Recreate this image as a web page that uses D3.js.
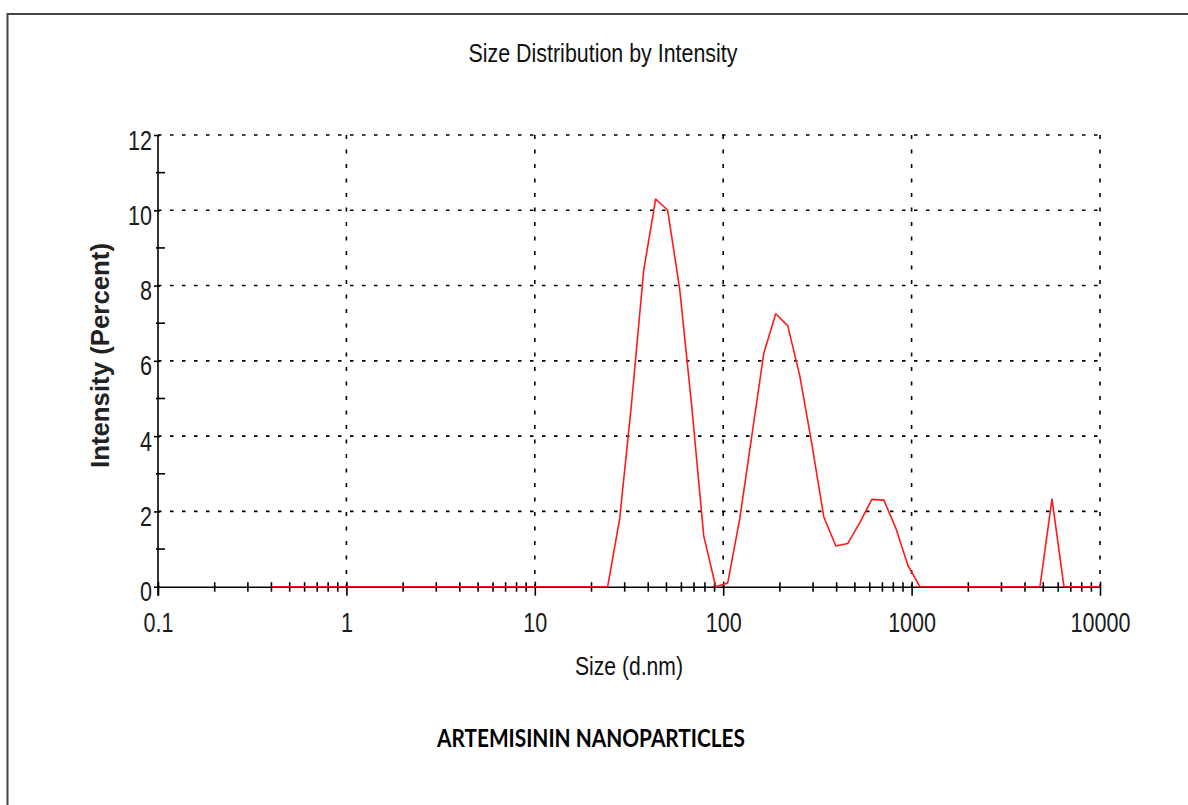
<!DOCTYPE html>
<html><head><meta charset="utf-8">
<script src="https://cdn.jsdelivr.net/npm/d3@7"></script>
<style>body{margin:0;background:#fff} svg{display:block}</style>
</head><body>
<svg id="chart" width="1188" height="805"></svg>
<script>
// ---- data ----
const sizes = [0.4, 0.4632, 0.5365, 0.6213, 0.7195, 0.8332, 0.9649, 1.117, 1.294, 1.499,
  1.736, 2.01, 2.328, 2.696, 3.122, 3.615, 4.187, 4.849, 5.615, 6.503,
  7.531, 8.721, 10.1, 11.7, 13.54, 15.69, 18.17, 21.04, 24.36, 28.21,
  32.67, 37.84, 43.82, 50.75, 58.77, 68.06, 78.82, 91.28, 105.7, 122.4,
  141.8, 164.2, 190.1, 220.2, 255.0, 295.3, 342.0, 396.1, 458.7, 531.2,
  615.1, 712.4, 825.0, 955.4, 1106, 1281, 1484, 1718, 1990, 2305,
  2669, 3091, 3580, 4145, 4801, 5560, 6439, 7456, 8635, 10000];
const intensity = [0, 0, 0, 0, 0, 0, 0, 0, 0, 0,
  0, 0, 0, 0, 0, 0, 0, 0, 0, 0,
  0, 0, 0, 0, 0, 0, 0, 0, 0, 1.8,
  4.9, 8.4, 10.3, 10.0, 7.9, 4.8, 1.35, 0, 0.1, 1.8,
  4.0, 6.2, 7.25, 6.93, 5.6, 3.8, 1.85, 1.08, 1.15, 1.7,
  2.32, 2.3, 1.55, 0.57, 0, 0, 0, 0, 0, 0,
  0, 0, 0, 0, 0, 2.33, 0, 0, 0, 0];
const xTickValues = [0.1, 1, 10, 100, 1000, 10000];
const xTickLabels = ["0.1", "1", "10", "100", "1000", "10000"];
const yTickValues = [0, 2, 4, 6, 8, 10, 12];
const yMinorValues = [1, 3, 5, 7, 9, 11];
const titleText = "Size Distribution by Intensity";
const xLabelText = "Size (d.nm)";
const yLabelText = "Intensity (Percent)";
const captionText = "ARTEMISININ NANOPARTICLES";

// ---- drawing ----
const svg = d3.select("#chart");
const FONT = "'Liberation Sans', Arial, sans-serif";
const SQ = 0.77;
svg.append("rect").attr("width", 1188).attr("height", 805).attr("fill", "#fff");

// frame (top + left edges)
svg.append("path").attr("d", "M7.5,805V14H1188").attr("fill", "none")
  .attr("stroke", "#444").attr("stroke-width", 2);

const x = d3.scaleLog().domain([0.1, 10000]).range([158, 1100]);
const y = d3.scaleLinear().domain([0, 12]).range([586.7, 135]);

// grid
const grid = svg.append("g");
grid.selectAll("line.h").data(yTickValues.filter(d => d > 0)).join("line")
  .attr("x1", x(0.1)).attr("x2", x(10000))
  .attr("y1", d => y(d)).attr("y2", d => y(d))
  .attr("stroke", "#000").attr("stroke-width", 1.6).attr("stroke-dasharray", "3.5,8.5");
grid.selectAll("line.v").data(xTickValues.filter(d => d > 0.1)).join("line")
  .attr("x1", d => x(d)).attr("x2", d => x(d))
  .attr("y1", y(12)).attr("y2", y(0))
  .attr("stroke", "#000").attr("stroke-width", 1.6).attr("stroke-dasharray", "4,10.5");

// x axis
const xAxis = svg.append("g").attr("transform", `translate(0,${y(0)})`)
  .call(d3.axisBottom(x).tickValues(xTickValues).tickFormat((d, i) => xTickLabels[i]).tickSizeOuter(0));
xAxis.select(".domain").attr("stroke", "#000").attr("stroke-width", 1.6);
xAxis.selectAll(".tick line").attr("y1", -5).attr("y2", 9).attr("stroke", "#000").attr("stroke-width", 1.6);
xAxis.selectAll(".tick text").attr("y", 45).attr("dy", null)
  .attr("transform", `scale(${SQ},1)`)
  .attr("font-family", FONT).attr("font-size", 28).attr("fill", "#1a1a1a");
const xMinor = x.ticks().filter(d => !xTickValues.includes(d));
svg.append("g").selectAll("line").data(xMinor).join("line")
  .attr("x1", d => x(d)).attr("x2", d => x(d))
  .attr("y1", y(0) - 4.5).attr("y2", y(0) + 5)
  .attr("stroke", "#000").attr("stroke-width", 1.6);

// y axis
const yAxis = svg.append("g").attr("transform", `translate(${x(0.1)},0)`)
  .call(d3.axisLeft(y).tickValues(yTickValues).tickFormat(d3.format("d")).tickSizeOuter(0));
yAxis.select(".domain").attr("stroke", "#000").attr("stroke-width", 1.6)
  .attr("d", `M0,${y(12)}V${y(0) + 9}`);
yAxis.selectAll(".tick line").attr("x2", -4).attr("x1", 2).attr("stroke", "#000").attr("stroke-width", 1.6);
yAxis.selectAll(".tick text").attr("x", -6 / SQ).attr("dy", null).attr("y", 14)
  .attr("transform", `scale(${SQ},1)`)
  .attr("font-family", FONT).attr("font-size", 28).attr("fill", "#1a1a1a");
svg.append("g").selectAll("line").data(yMinorValues).join("line")
  .attr("x1", x(0.1) - 2).attr("x2", x(0.1) + 7)
  .attr("y1", d => y(d)).attr("y2", d => y(d))
  .attr("stroke", "#000").attr("stroke-width", 1.6);

// data line
const pts = sizes.map((s, i) => [s, intensity[i]]);
svg.append("path").datum(pts)
  .attr("d", d3.line().x(d => x(d[0])).y(d => y(d[1])))
  .attr("fill", "none").attr("stroke", "#ff1a1a").attr("stroke-width", 1.6)
  .attr("stroke-linejoin", "round");

// texts
svg.append("text").attr("x", 603).attr("y", 62).attr("text-anchor", "middle")
  .attr("font-family", FONT).attr("font-size", 26).attr("fill", "#111")
  .attr("textLength", 269).attr("lengthAdjust", "spacingAndGlyphs").text(titleText);
svg.append("text").attr("x", 629).attr("y", 675).attr("text-anchor", "middle")
  .attr("font-family", FONT).attr("font-size", 25).attr("fill", "#111")
  .attr("textLength", 108).attr("lengthAdjust", "spacingAndGlyphs").text(xLabelText);
svg.append("text").attr("transform", "translate(109,355.5) rotate(-90)").attr("text-anchor", "middle")
  .attr("font-family", FONT).attr("font-size", 25).attr("font-weight", "bold").attr("fill", "#222")
  .attr("textLength", 225).attr("lengthAdjust", "spacingAndGlyphs").text(yLabelText);
svg.append("text").attr("x", 591).attr("y", 746.5).attr("text-anchor", "middle")
  .attr("font-family", "Lato, 'Open Sans', sans-serif").attr("font-size", 25).attr("font-weight", "bold").attr("fill", "#000")
  .attr("textLength", 308).attr("lengthAdjust", "spacingAndGlyphs").text(captionText);
</script>
</body></html>
